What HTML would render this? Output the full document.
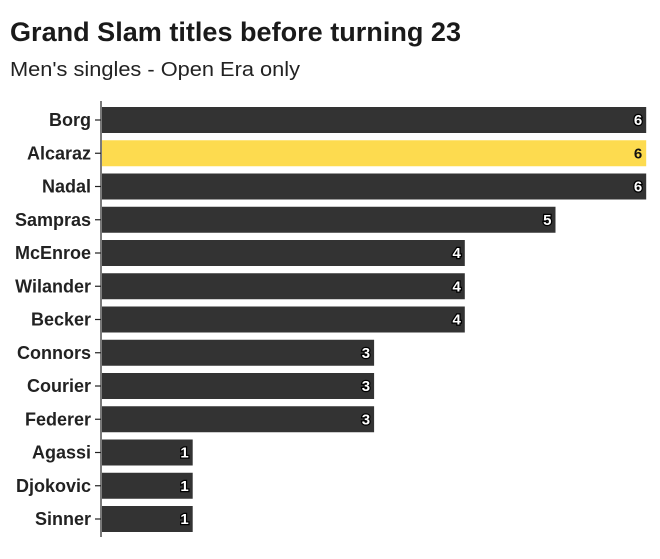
<!DOCTYPE html>
<html><head><meta charset="utf-8"><style>
body{margin:0;background:#fff;width:660px;height:554px;overflow:hidden;font-family:"Liberation Sans",sans-serif;}
</style></head><body>
<svg width="660" height="554" xmlns="http://www.w3.org/2000/svg" font-family="Liberation Sans, sans-serif">
<text x="10" y="41" font-size="27" font-weight="bold" fill="#1a1a1a" textLength="451" lengthAdjust="spacingAndGlyphs">Grand Slam titles before turning 23</text>
<text x="10" y="76" font-size="20" fill="#222" textLength="290" lengthAdjust="spacingAndGlyphs">Men's singles - Open Era only</text>
<line x1="101" y1="101" x2="101" y2="537" stroke="#222" stroke-width="1.2"/>
<g id="bars"></g>
</svg>
<script>
const d=[["Borg",6],["Alcaraz",6],["Nadal",6],["Sampras",5],["McEnroe",4],["Wilander",4],["Becker",4],["Connors",3],["Courier",3],["Federer",3],["Agassi",1],["Djokovic",1],["Sinner",1]];
const g=document.getElementById('bars');let h='';
d.forEach((r,i)=>{const y=107+i*33.25;const w=r[1]*90.7;const yl=i==1;
h+=`<rect x="102" y="${y}" width="${w}" height="26" fill="${yl?'#fddb4f':'#333333'}"/>`;
h+=`<line x1="95" y1="${y+13}" x2="101" y2="${y+13}" stroke="#222" stroke-width="1.2"/>`;
h+=`<text x="91" y="${y+19}" text-anchor="end" font-size="18" font-weight="bold" fill="#222">${r[0]}</text>`;
h+=`<text x="${102+w-4}" y="${y+18}" text-anchor="end" font-size="15" font-weight="bold" fill="${yl?'#111':'#fff'}" ${yl?'':'stroke="#000" stroke-width="2.5" paint-order="stroke"'}>${r[1]}</text>`;});
g.innerHTML=h;
</script>
</body></html>
